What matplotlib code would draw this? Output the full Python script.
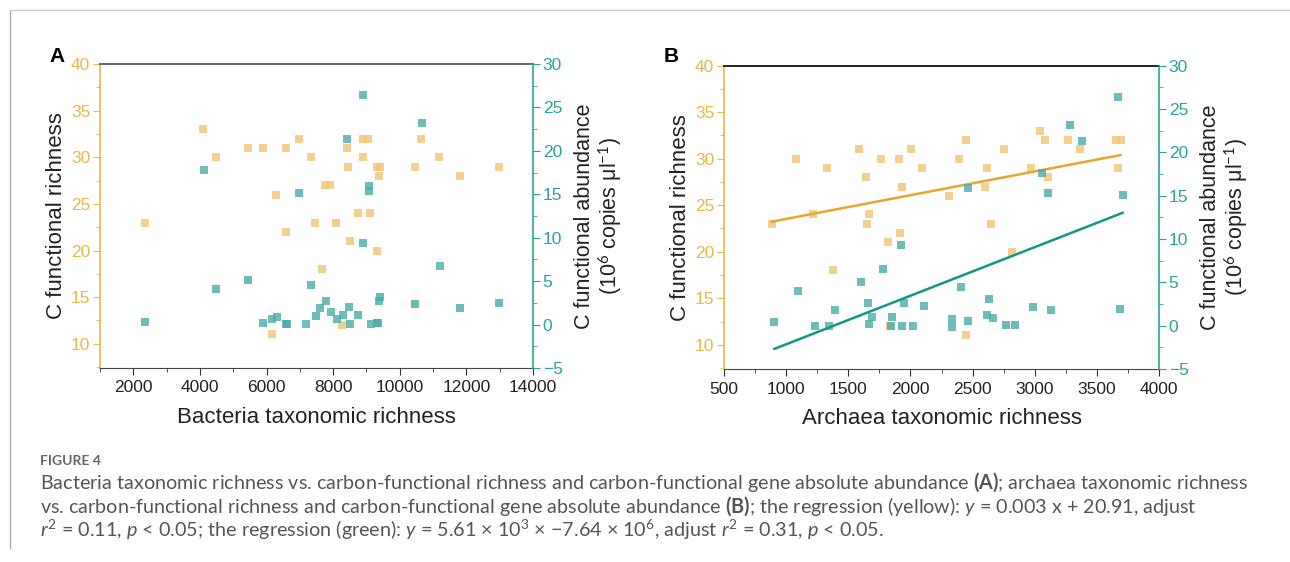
import matplotlib
matplotlib.use('Agg')
import matplotlib.pyplot as plt
import numpy as np
from matplotlib.lines import Line2D
from matplotlib.ticker import MultipleLocator

plt.rcParams['font.family'] = ['Liberation Sans', 'DejaVu Sans']
plt.rcParams['mathtext.fontset'] = 'custom'
plt.rcParams['mathtext.rm'] = 'Lato'
plt.rcParams['mathtext.it'] = 'Lato:italic'
plt.rcParams['mathtext.bf'] = 'Lato:bold'

# panel A: bacteria richness vs C functional richness (left) / abundance (right)
bac_x_rich = [2340, 4100, 4480, 5440, 5890, 6580, 6960, 7320, 6280, 6570, 7460, 6150,
              8905, 9055, 8405, 8905, 8435, 9305, 9405, 9365, 10625, 10465, 11185, 11796,
              12978, 7764, 7904, 8736, 9115, 8085, 8505, 9325, 7655, 8265]
bac_rich = [23, 33, 30, 31, 31, 31, 32, 30, 26, 22, 23, 11,
            32, 32, 31, 30, 29, 29, 29, 28, 32, 29, 30, 28,
            29, 27, 27, 24, 24, 23, 21, 20, 18, 12]
bac_x_abund = [4122, 6974, 5453, 4493, 2341, 7324, 5903, 6163, 6304, 6584, 6600, 7194,
               7474, 7605, 8905, 10655, 8405, 9075, 9075, 8905, 11196, 9405, 9375, 10465,
               11807, 12978, 7784, 7934, 8105, 8285, 8465, 8515, 8755, 9125, 9305, 9355]
bac_abund = [17.8, 15.1, 5.1, 4.1, 0.35, 4.6, 0.2, 0.65, 0.85, 0.05, 0.05, 0.05,
             1.0, 1.9, 26.4, 23.2, 21.4, 16.0, 15.4, 9.4, 6.7, 3.2, 2.75, 2.35,
             1.9, 2.45, 2.75, 1.4, 0.6, 1.1, 2.05, 0.05, 1.1, 0.05, 0.15, 0.15]

# panel B: archaea richness
arc_x_rich = [884, 1083, 1216, 1327, 1375, 1587, 1641, 1667, 1654, 1761, 1823, 1834,
              1909, 1914, 1933, 2003, 2091, 2311, 2387, 2448, 2604, 2620, 2647, 2749,
              2816, 2446, 2971, 3041, 3084, 3108, 3264, 3363, 3653, 3691, 3667]
arc_rich = [23, 30, 24, 29, 18, 31, 28, 24, 23, 30, 21, 12,
            30, 22, 27, 31, 29, 26, 30, 32, 27, 29, 23, 31,
            20, 11, 29, 33, 32, 28, 32, 31, 32, 32, 29]
arc_x_abund = [906, 1099, 1230, 1345, 1391, 1606, 1659, 1687, 1670, 1780, 1848, 1840,
               1925, 1952, 1930, 2021, 2110, 2405, 2467, 2331, 2333, 2464, 2636, 2620,
               2665, 2765, 2838, 2987, 3060, 3103, 3128, 3283, 3382, 3672, 3707, 3685]
arc_abund = [0.45, 4.0, 0.0, 0.0, 1.8, 5.05, 2.6, 1.0, 0.2, 6.55, 1.0, 0.0,
             9.3, 2.65, 0.0, 0.0, 2.3, 4.45, 15.9, 0.75, -0.1, 0.55, 3.1, 1.2,
             0.85, 0.1, 0.1, 2.2, 17.65, 15.35, 1.75, 23.1, 21.35, 26.35, 15.05, 1.9]

# regression fits (slope, intercept)
fit_rich = (0.00255, 20.97)
fit_abund = (0.0056, -7.75)

GOLD = '#EBB84A'
TEAL = '#2BA39A'
PT_Y = '#F3C77A'
PT_T = '#4AADA8'

fig = plt.figure(figsize=(12.9, 5.62), dpi=100)
W, H = 1290, 562


def make_panel(rect, xlim, xmajor, xminor, xlabel, top_col):
    ax = fig.add_axes(rect)
    ax2 = ax.twinx()
    ax.set_xlim(*xlim)
    ax.set_ylim(7.4, 40)
    ax2.set_ylim(-5, 30)
    ax.xaxis.set_major_locator(MultipleLocator(xmajor))
    ax.xaxis.set_minor_locator(MultipleLocator(xminor))
    ax.yaxis.set_major_locator(MultipleLocator(5))
    ax.yaxis.set_minor_locator(MultipleLocator(2.5))
    ax2.yaxis.set_major_locator(MultipleLocator(5))
    ax2.yaxis.set_minor_locator(MultipleLocator(2.5))
    ax.spines['left'].set_color(GOLD)
    ax.spines['left'].set_linewidth(1.2)
    ax.spines['right'].set_visible(False)
    ax.spines['top'].set_color(top_col)
    ax.spines['top'].set_linewidth(1.4)
    ax.spines['bottom'].set_color('#444444')
    ax2.spines['right'].set_color(TEAL)
    ax2.spines['right'].set_linewidth(1.2)
    for s in ['left', 'top', 'bottom']:
        ax2.spines[s].set_visible(False)
    ax.tick_params(axis='y', which='both', colors=GOLD, labelsize=12.5, pad=2)
    ax.tick_params(axis='y', which='major', length=5)
    ax.tick_params(axis='y', which='minor', length=3)
    ax.tick_params(axis='x', which='major', length=5, labelsize=12.5, colors='#333333',
                   labelcolor='#222222', pad=4)
    ax.tick_params(axis='x', which='minor', length=3, colors='#333333')
    ax2.tick_params(axis='y', which='both', colors=TEAL, labelsize=12.5, pad=2)
    ax2.tick_params(axis='y', which='major', length=5)
    ax2.tick_params(axis='y', which='minor', length=3)
    ax.set_xlabel(xlabel, fontsize=16, color='#222222', labelpad=8)
    ax.set_ylabel('C functional richness', fontsize=16, color='#222222', labelpad=3)
    ax2.set_ylabel('C functional abundance\n(10$^6$ copies μl$^{-1}$)', fontsize=15.5,
                   color='#222222', labelpad=8, rotation=90, linespacing=1.1)
    return ax, ax2


axA, axA2 = make_panel([100 / W, 1 - 368 / H, 433 / W, 304 / H], (1000, 14000), 2000, 1000,
                       'Bacteria taxonomic richness', '#666666')
axA.scatter(bac_x_rich, bac_rich, marker='s', s=26, color=PT_Y, alpha=0.85, linewidths=0)
axA2.scatter(bac_x_abund, bac_abund, marker='s', s=26, color=PT_T, alpha=0.8, linewidths=0)

axB, axB2 = make_panel([724 / W, 1 - 369 / H, 435 / W, 303.5 / H], (500, 4000), 500, 250,
                       'Archaea taxonomic richness', '#222222')
axB.scatter(arc_x_rich, arc_rich, marker='s', s=26, color=PT_Y, alpha=0.85, linewidths=0)
axB2.scatter(arc_x_abund, arc_abund, marker='s', s=26, color=PT_T, alpha=0.8, linewidths=0)
xr = np.array([min(arc_x_rich), max(arc_x_rich)])
axB.plot(xr, fit_rich[0] * xr + fit_rich[1], color='#E9A62C', lw=1.8)
xa = np.array([min(arc_x_abund), max(arc_x_abund)])
axB2.plot(xa, fit_abund[0] * xa + fit_abund[1], color='#12968A', lw=1.8)

fig.text(57 / W, 1 - 57 / H, 'A', fontsize=15, fontweight='bold', ha='center', va='center')
fig.text(671 / W, 1 - 57 / H, 'B', fontsize=15, fontweight='bold', ha='center', va='center')

# page frame lines
fig.add_artist(Line2D([10 / W, 10 / W], [1 - 10 / H, 1 - 548 / H], color='#aaaaaa', lw=1))
fig.add_artist(Line2D([10 / W, 1.0], [1 - 10 / H, 1 - 10 / H], color='#cccccc', lw=1))

cap = dict(fontsize=14.2, color='#555555', family=['Lato', 'DejaVu Sans'], va='baseline')
fig.text(40 / W, 1 - 465 / H, 'FIGURE 4', fontsize=10, color='#666666',
         family=['Lato', 'DejaVu Sans'], fontweight='bold', va='baseline')
fig.text(40 / W, 1 - 489 / H,
         'Bacteria taxonomic richness vs. carbon-functional richness and carbon-functional gene '
         'absolute abundance $\\mathbf{(A)}$; archaea taxonomic richness', **cap)
fig.text(40 / W, 1 - 513 / H,
         'vs. carbon-functional richness and carbon-functional gene absolute abundance '
         '$\\mathbf{(B)}$; the regression (yellow): $y$ = 0.003 x + 20.91, adjust', **cap)
fig.text(40 / W, 1 - 537 / H,
         '$r^2$ = 0.11, $p$ < 0.05; the regression (green): $y$ = 5.61 × 10$^3$ × −7.64 × 10$^6$, '
         'adjust $r^2$ = 0.31, $p$ < 0.05.', **cap)

fig.savefig('out.png', dpi=100)
